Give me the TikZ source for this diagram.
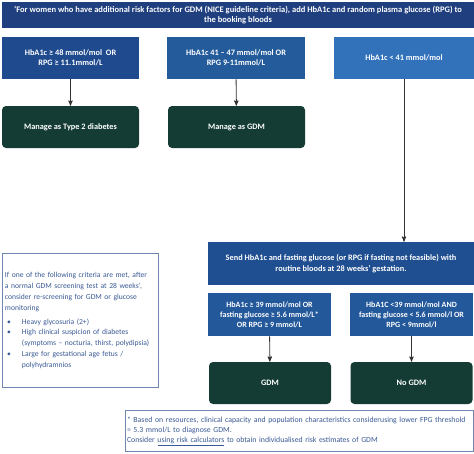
\documentclass[tikz,border=0pt]{standalone}
\usepackage{fontspec}
\setmainfont{Carlito}
\usepackage{xcolor}
\usepackage{tikz}
\usetikzlibrary{arrows}

\definecolor{navy}{HTML}{203F7E}
\definecolor{blueA}{HTML}{1F4A8E}
\definecolor{blueB}{HTML}{245B9B}
\definecolor{blueC}{HTML}{3272BB}
\definecolor{blueD}{HTML}{1F4F91}
\definecolor{blueE}{HTML}{23589A}
\definecolor{darkgreen}{HTML}{143C35}
\definecolor{notetext}{HTML}{3A5A94}
\definecolor{noteline}{HTML}{6F86AE}

\begin{document}
\begin{tikzpicture}[x=1pt,y=-1pt,>=stealth',
                    semithick]
\tikzstyle{every node}=[font=\fontsize{8.3}{10.3}\selectfont\bfseries,
                        text=white,align=center,inner sep=2pt]
\tikzstyle{box}=[rectangle,minimum height=42pt]
\tikzstyle{outcome}=[box,fill=darkgreen,rounded corners=4pt,
                     minimum width=137pt]
\tikzstyle{notebox}=[rectangle,draw=noteline,line width=1pt,fill=white,
                     text=notetext,align=left]
\tikzstyle{link}=[->,draw=black!80,line width=0.9pt]

\useasboundingbox (0,0) rectangle (474,453);

\node[box,fill=navy,minimum width=472pt,minimum height=26pt,
      font=\fontsize{8.5}{10.3}\selectfont\bfseries] (TOP) at (238,15)
  {‘For women who have additional risk factors for GDM (NICE guideline criteria), add HbA1c and random plasma glucose (RPG) to\\the booking bloods};

\node[box,fill=blueA,minimum width=137pt] (HIGH) at (70.5,58)
  {HbA1c ≥ 48 mmol/mol\ \ OR\\RPG ≥ 11.1mmol/L};
\node[box,fill=blueB,minimum width=138pt] (MID) at (236,58)
  {HbA1c 41 – 47 mmol/mol OR\\RPG 9-11mmol/L};
\node[box,fill=blueC,minimum width=140pt] (LOW) at (404,58)
  {HbA1c < 41 mmol/mol};

\node[outcome] (T2D) at (70.5,127) {Manage as Type 2 diabetes};
\node[outcome] (EARLY) at (236.5,127) {Manage as GDM};

\node[box,fill=blueD,minimum width=266pt,minimum height=43pt] (SEND) at (341,263.5)
  {Send HbA1c and fasting glucose (or RPG if fasting not feasible) with\\routine bloods at 28 weeks' gestation.};
\coordinate (SENDIN) at (LOW.south |- SEND.north);

\node[box,fill=blueE,minimum width=123pt,minimum height=43pt,
      font=\fontsize{8}{10}\selectfont\bfseries] (POS) at (269.5,314.5)
  {HbA1c ≥ 39 mmol/mol OR\\fasting glucose ≥ 5.6 mmol/L*\\OR RPG ≥ 9 mmol/L};
\node[box,fill=blueE,minimum width=123pt,minimum height=43pt,
      font=\fontsize{8}{10}\selectfont\bfseries] (NEG) at (411.5,314.5)
  {HbA1C <39 mmol/mol AND\\fasting glucose < 5.6 mmol/l OR\\RPG < 9mmol/l};

\node[outcome,minimum width=122pt] (GDM) at (270,383) {GDM};
\node[outcome,minimum width=122pt] (NOGDM) at (411.5,383) {No GDM};

\node[notebox,minimum height=134pt,text width=150pt,
      inner xsep=3pt,inner ysep=4pt,font=\fontsize{7.6}{10.8}\selectfont] (CRIT) at (80,320.5)
  {\hyphenpenalty=10000
   If one of the following criteria are met, after\\
   a normal GDM screening test at 28 weeks',\\
   consider re-screening for GDM or glucose\\
   monitoring\\[3pt]
   \hspace*{2pt}\makebox[15pt][l]{•}Heavy glycosuria (2+)\\
   \hspace*{2pt}\makebox[15pt][l]{•}High clinical suspicion of diabetes\\
   \hspace*{17pt}(symptoms – nocturia, thirst, polydipsia)\\
   \hspace*{2pt}\makebox[15pt][l]{•}Large for gestational age fetus /\\
   \hspace*{17pt}polyhydramnios};

\node[notebox,minimum height=41pt,text width=344pt,
      inner xsep=2pt,inner ysep=2pt,font=\fontsize{7.8}{10}\selectfont] (NOTE) at (299,431)
  {\mbox{* Based on resources, clinical capacity and population characteristics considerusing lower FPG threshold}\\
   = 5.3 mmol/L to diagnose GDM.\\
   Consider \underline{using risk calculators} to obtain individualised risk estimates of GDM};

\draw[link] (HIGH) -- (T2D);
\draw[link] (MID) -- (EARLY);
\draw[link] (LOW) -- (SENDIN);
\draw[link] (POS) -- (GDM);
\draw[link] (NEG) -- (NOGDM);
\end{tikzpicture}
\end{document}
